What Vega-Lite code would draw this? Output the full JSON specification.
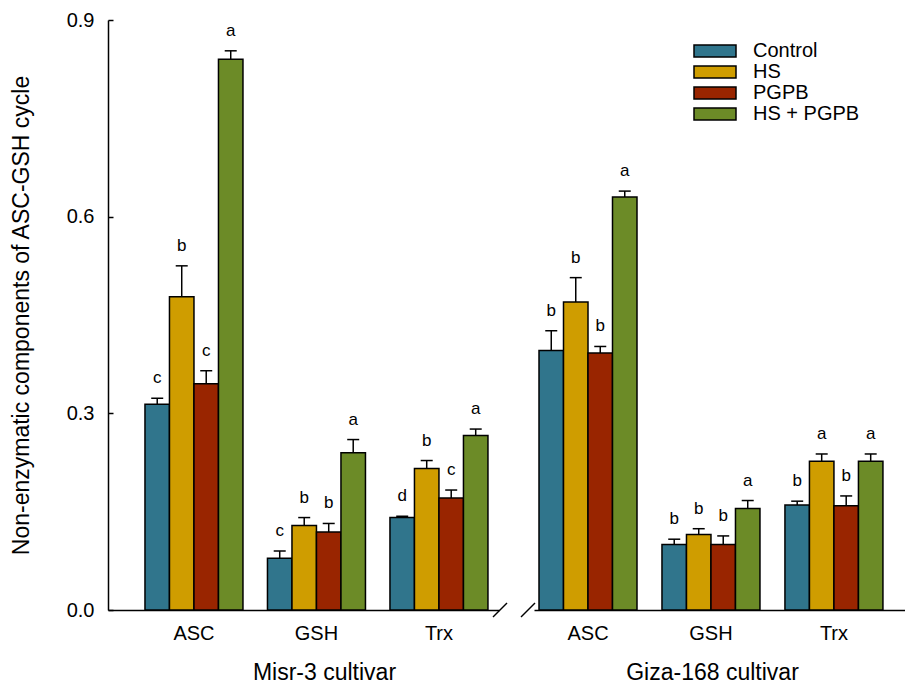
{
  "$schema": "https://vega.github.io/schema/vega-lite/v6.json",
  "padding": {"left": 10, "top": 10, "right": 0, "bottom": 0},
  "background": "white",
  "bounds": "flush",
  "config": {
    "font": "Liberation Sans",
    "view": {"stroke": null},
    "axis": {"labelColor": "#000", "titleColor": "#000", "domainColor": "#000", "tickColor": "#000", "domainWidth": 1.5, "tickWidth": 1.5, "grid": false, "titleFontWeight": "normal", "labelFontSize": 20, "titleFontSize": 23},
    "legend": {"labelColor": "#000"}
  },
  "data": {"values": [
    {"cultivar": "Misr-3", "component": "ASC", "treatment": "Control", "value": 0.314, "hi": 0.323, "letter": "c"},
    {"cultivar": "Misr-3", "component": "ASC", "treatment": "HS", "value": 0.478, "hi": 0.525, "letter": "b"},
    {"cultivar": "Misr-3", "component": "ASC", "treatment": "PGPB", "value": 0.345, "hi": 0.365, "letter": "c"},
    {"cultivar": "Misr-3", "component": "ASC", "treatment": "HS + PGPB", "value": 0.840, "hi": 0.853, "letter": "a"},
    {"cultivar": "Misr-3", "component": "GSH", "treatment": "Control", "value": 0.079, "hi": 0.090, "letter": "c"},
    {"cultivar": "Misr-3", "component": "GSH", "treatment": "HS", "value": 0.129, "hi": 0.141, "letter": "b"},
    {"cultivar": "Misr-3", "component": "GSH", "treatment": "PGPB", "value": 0.119, "hi": 0.132, "letter": "b"},
    {"cultivar": "Misr-3", "component": "GSH", "treatment": "HS + PGPB", "value": 0.240, "hi": 0.260, "letter": "a"},
    {"cultivar": "Misr-3", "component": "Trx", "treatment": "Control", "value": 0.141, "hi": 0.143, "letter": "d"},
    {"cultivar": "Misr-3", "component": "Trx", "treatment": "HS", "value": 0.216, "hi": 0.228, "letter": "b"},
    {"cultivar": "Misr-3", "component": "Trx", "treatment": "PGPB", "value": 0.171, "hi": 0.183, "letter": "c"},
    {"cultivar": "Misr-3", "component": "Trx", "treatment": "HS + PGPB", "value": 0.266, "hi": 0.276, "letter": "a"},
    {"cultivar": "Giza-168", "component": "ASC", "treatment": "Control", "value": 0.396, "hi": 0.426, "letter": "b"},
    {"cultivar": "Giza-168", "component": "ASC", "treatment": "HS", "value": 0.470, "hi": 0.507, "letter": "b"},
    {"cultivar": "Giza-168", "component": "ASC", "treatment": "PGPB", "value": 0.392, "hi": 0.402, "letter": "b"},
    {"cultivar": "Giza-168", "component": "ASC", "treatment": "HS + PGPB", "value": 0.630, "hi": 0.639, "letter": "a"},
    {"cultivar": "Giza-168", "component": "GSH", "treatment": "Control", "value": 0.100, "hi": 0.108, "letter": "b"},
    {"cultivar": "Giza-168", "component": "GSH", "treatment": "HS", "value": 0.115, "hi": 0.124, "letter": "b"},
    {"cultivar": "Giza-168", "component": "GSH", "treatment": "PGPB", "value": 0.100, "hi": 0.113, "letter": "b"},
    {"cultivar": "Giza-168", "component": "GSH", "treatment": "HS + PGPB", "value": 0.155, "hi": 0.167, "letter": "a"},
    {"cultivar": "Giza-168", "component": "Trx", "treatment": "Control", "value": 0.160, "hi": 0.166, "letter": "b"},
    {"cultivar": "Giza-168", "component": "Trx", "treatment": "HS", "value": 0.227, "hi": 0.238, "letter": "a"},
    {"cultivar": "Giza-168", "component": "Trx", "treatment": "PGPB", "value": 0.159, "hi": 0.174, "letter": "b"},
    {"cultivar": "Giza-168", "component": "Trx", "treatment": "HS + PGPB", "value": 0.227, "hi": 0.238, "letter": "a"}
  ]},
  "spacing": 35,
  "resolve": {"scale": {"color": "shared", "y": "shared"}, "legend": {"color": "independent"}},
  "hconcat": [
    {
      "width": 391,
      "height": 590,
      "transform": [{"filter": "datum.cultivar === 'Misr-3'"}],
      "layer": [
        {
          "mark": {"type": "bar", "stroke": "#000", "strokeWidth": 1.5},
          "encoding": {
            "x": {"field": "component", "type": "nominal", "sort": ["ASC", "GSH", "Trx"],
              "scale": {"domain": ["ASC", "GSH", "Trx"], "paddingInner": 0.2, "paddingOuter": 0.196, "align": 0.77},
              "axis": {"title": "Misr-3 cultivar", "labelAngle": 0, "ticks": false, "labelPadding": 13, "titlePadding": 18, "titleX": 216}},
            "xOffset": {"field": "treatment", "type": "nominal", "scale": {"domain": ["Control", "HS", "PGPB", "HS + PGPB"], "paddingInner": 0, "paddingOuter": 0}},
            "y": {"field": "value", "type": "quantitative", "scale": {"domain": [0, 0.9], "nice": false},
              "axis": {"title": "Non-enzymatic components of ASC-GSH cycle", "values": [0, 0.3, 0.6, 0.9], "format": ".1f", "tickSize": -5, "labelPadding": 19, "titlePadding": 33}},
            "color": {"field": "treatment", "type": "nominal",
              "scale": {"domain": ["Control", "HS", "PGPB", "HS + PGPB"], "range": ["#30758c", "#cf9d00", "#992500", "#6c8b27"]},
              "legend": null}
          }
        },
        {
          "mark": {"type": "rule", "color": "#000", "strokeWidth": 1.5},
          "encoding": {
            "x": {"field": "component", "type": "nominal"},
            "xOffset": {"field": "treatment", "type": "nominal"},
            "y": {"field": "value", "type": "quantitative"}, "y2": {"field": "hi"}}
        },
        {
          "mark": {"type": "tick", "color": "#000", "thickness": 1.5, "size": 12, "opacity": 1},
          "encoding": {
            "x": {"field": "component", "type": "nominal"},
            "xOffset": {"field": "treatment", "type": "nominal"},
            "y": {"field": "hi", "type": "quantitative"}}
        },
        {
          "mark": {"type": "text", "fontSize": 17, "dy": -15, "baseline": "alphabetic", "color": "#000"},
          "encoding": {
            "x": {"field": "component", "type": "nominal"},
            "xOffset": {"field": "treatment", "type": "nominal"},
            "y": {"field": "hi", "type": "quantitative"}, "text": {"field": "letter"}}
        },
        {
          "transform": [{"filter": "datum.component === 'ASC' && datum.treatment === 'Control'"}],
          "mark": {"type": "point", "shape": "M-1,1L1,-1", "size": 196, "filled": false, "stroke": "#000", "strokeWidth": 1.5, "opacity": 1, "xOffset": 1},
          "encoding": {"x": {"value": "width"}, "y": {"datum": 0, "type": "quantitative"}}
        }
      ]
    },
    {
      "width": 371,
      "height": 590,
      "transform": [{"filter": "datum.cultivar === 'Giza-168'"}],
      "layer": [
        {
          "mark": {"type": "bar", "stroke": "#000", "strokeWidth": 1.5},
          "encoding": {
            "x": {"field": "component", "type": "nominal", "sort": ["ASC", "GSH", "Trx"],
              "scale": {"domain": ["ASC", "GSH", "Trx"], "paddingInner": 0.203, "paddingOuter": 0.11, "align": 0.185},
              "axis": {"title": "Giza-168 cultivar", "labelAngle": 0, "ticks": false, "labelPadding": 13, "titlePadding": 18, "titleX": 178}},
            "xOffset": {"field": "treatment", "type": "nominal", "scale": {"domain": ["Control", "HS", "PGPB", "HS + PGPB"], "paddingInner": 0, "paddingOuter": 0}},
            "y": {"field": "value", "type": "quantitative", "scale": {"domain": [0, 0.9], "nice": false}, "axis": null},
            "color": {"field": "treatment", "type": "nominal",
              "scale": {"domain": ["Control", "HS", "PGPB", "HS + PGPB"], "range": ["#30758c", "#cf9d00", "#992500", "#6c8b27"]},
              "legend": {"title": null, "orient": "none", "legendX": 171, "legendY": 21, "labelFontSize": 20, "symbolType": "M-3.5,-1L3.5,-1L3.5,1L-3.5,1Z", "symbolSize": 144, "symbolStrokeColor": "#000", "symbolStrokeWidth": 1.5, "symbolOpacity": 1, "labelOffset": 28, "rowPadding": 1, "padding": 0}}
          }
        },
        {
          "mark": {"type": "rule", "color": "#000", "strokeWidth": 1.5},
          "encoding": {
            "x": {"field": "component", "type": "nominal"},
            "xOffset": {"field": "treatment", "type": "nominal"},
            "y": {"field": "value", "type": "quantitative"}, "y2": {"field": "hi"}}
        },
        {
          "mark": {"type": "tick", "color": "#000", "thickness": 1.5, "size": 12, "opacity": 1},
          "encoding": {
            "x": {"field": "component", "type": "nominal"},
            "xOffset": {"field": "treatment", "type": "nominal"},
            "y": {"field": "hi", "type": "quantitative"}}
        },
        {
          "mark": {"type": "text", "fontSize": 17, "dy": -15, "baseline": "alphabetic", "color": "#000"},
          "encoding": {
            "x": {"field": "component", "type": "nominal"},
            "xOffset": {"field": "treatment", "type": "nominal"},
            "y": {"field": "hi", "type": "quantitative"}, "text": {"field": "letter"}}
        },
        {
          "transform": [{"filter": "datum.component === 'ASC' && datum.treatment === 'Control'"}],
          "mark": {"type": "point", "shape": "M-1,1L1,-1", "size": 196, "filled": false, "stroke": "#000", "strokeWidth": 1.5, "opacity": 1, "xOffset": -6},
          "encoding": {"x": {"value": 0}, "y": {"datum": 0, "type": "quantitative"}}
        }
      ]
    }
  ]
}
